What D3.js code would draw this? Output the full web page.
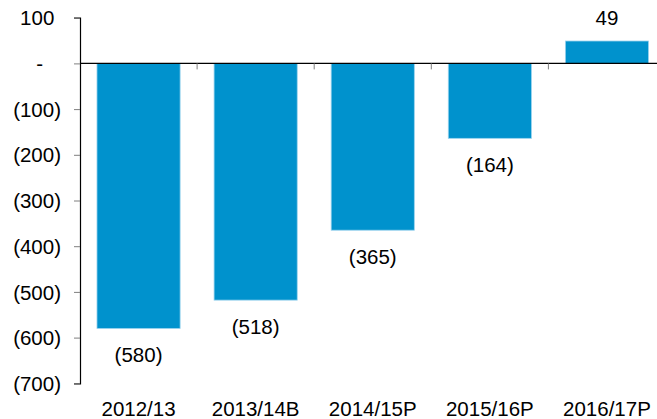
<!DOCTYPE html>
<html>
<head>
<meta charset="utf-8">
<script src="https://cdn.jsdelivr.net/npm/d3@7"></script>
<style>
  body { margin: 0; background: #fff; }
  text { font-family: "Liberation Sans", Arial, sans-serif; font-size: 20.5px; fill: #000; }
</style>
</head>
<body>
<svg id="chart"></svg>
<script>
// data
const years = ["2012/13", "2013/14B", "2014/15P", "2015/16P", "2016/17P"];
const values = [-580, -518, -365, -164, 49];
const yTicks = [100, 0, -100, -200, -300, -400, -500, -600, -700];

const width = 657, height = 419;

const svg = d3.select("#chart")
    .attr("width", width)
    .attr("height", height);

// scales
const x = d3.scaleBand()
    .domain(years)
    .range([80, 665.5])
    .paddingInner(0.29)
    .paddingOuter(0.145);

const y = d3.scaleLinear()
    .domain([-700, 100])
    .range([383.3, 17.7]);

function fmt(v) {
    if (v === 0) return "-";
    if (v < 0) return "(" + Math.abs(v) + ")";
    return String(v);
}

// bars
svg.selectAll(".bar")
    .data(values)
    .enter().append("rect")
    .attr("class", "bar")
    .attr("x", (d, i) => x(years[i]))
    .attr("width", x.bandwidth())
    .attr("y", d => y(Math.max(0, d)))
    .attr("height", d => Math.abs(y(d) - y(0)))
    .attr("fill", "#0092CD")
    .attr("stroke", "#9ad3ee")
    .attr("stroke-width", 0.8);

// y axis
const yAxis = svg.append("g")
    .attr("transform", "translate(80,0)")
    .call(d3.axisLeft(y).tickValues(yTicks).tickSize(6).tickPadding(0).tickFormat(fmt));
yAxis.select(".domain").attr("stroke", "#000").attr("stroke-width", 1.2);
yAxis.selectAll(".tick line").attr("stroke", "#7f7f7f");
yAxis.selectAll(".tick text")
    .attr("x", d => d < 0 ? -19 : (d === 0 ? -37 : -25.7))
    .attr("dy", "0.35em")
    .style("font-family", "Liberation Sans, Arial, sans-serif")
    .style("font-size", "20.5px");

// category axis along the zero line
const xAxis = svg.append("g")
    .attr("transform", "translate(0," + y(0) + ")");
xAxis.append("line")
    .attr("x1", 80).attr("x2", width)
    .attr("stroke", "#000").attr("stroke-width", 1.2);
xAxis.selectAll(".ctick")
    .data(years.slice(1))
    .enter().append("line")
    .attr("x1", d => x(d) - x.step() * x.paddingInner() / 2)
    .attr("x2", d => x(d) - x.step() * x.paddingInner() / 2)
    .attr("y1", 0).attr("y2", 6)
    .attr("stroke", "#7f7f7f");

// category labels at the bottom
svg.selectAll(".cat")
    .data(years)
    .enter().append("text")
    .attr("class", "cat")
    .attr("x", d => x(d) + x.bandwidth() / 2)
    .attr("y", 416)
    .attr("text-anchor", "middle")
    .text(d => d);

// value labels
svg.selectAll(".val")
    .data(values)
    .enter().append("text")
    .attr("class", "val")
    .attr("x", (d, i) => x(years[i]) + x.bandwidth() / 2)
    .attr("y", d => d < 0 ? y(d) + 26.5 : y(d) - 23)
    .attr("dy", "0.35em")
    .attr("text-anchor", "middle")
    .text(fmt);
</script>
</body>
</html>
